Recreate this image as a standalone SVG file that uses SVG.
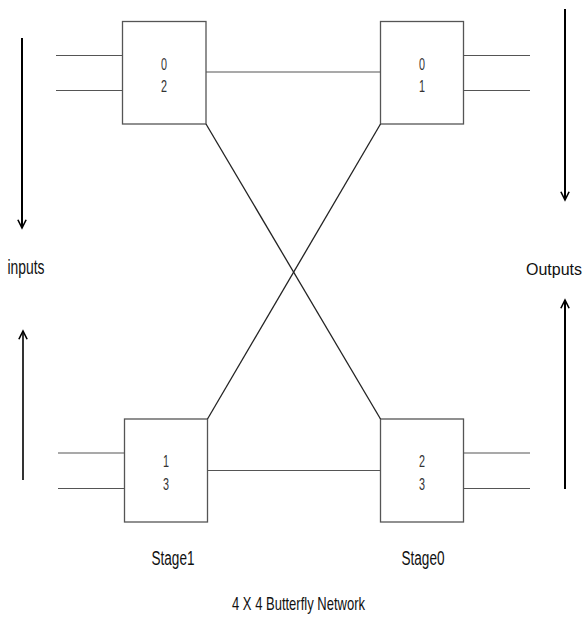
<svg xmlns="http://www.w3.org/2000/svg" width="587" height="618" viewBox="0 0 587 618">
  <style>
    .box { fill: #ffffff; stroke: #555555; stroke-width: 1.3; }
    .wire { stroke: #555555; stroke-width: 1.2; fill: none; }
    .cross { stroke: #222222; stroke-width: 1.3; fill: none; }
    .flow { stroke: #000000; stroke-width: 2; fill: none; }
    text { font-family: "Liberation Sans", Arial, sans-serif; fill: #111111; text-anchor: middle; }
    .num { font-size: 17px; fill: #333333; }
    .lbl { font-size: 20px; }
    .side { font-size: 17px; }
    .title { font-size: 19px; }
  </style>
  <defs>
    <marker id="arrow" viewBox="0 0 12 12" refX="10" refY="6" markerWidth="11" markerHeight="11" markerUnits="userSpaceOnUse" orient="auto">
      <path d="M1,1.5 L10,6 L1,10.5" fill="none" stroke="#000000" stroke-width="1.8"/>
    </marker>
  </defs>

  <!-- switching elements -->
  <g id="switch-top-left">
    <rect class="box" x="122.5" y="21.5" width="83.5" height="102.5"/>
    <text class="num" x="164" y="70" textLength="6" lengthAdjust="spacingAndGlyphs">0</text>
    <text class="num" x="164" y="92" textLength="6" lengthAdjust="spacingAndGlyphs">2</text>
  </g>
  <g id="switch-top-right">
    <rect class="box" x="380.5" y="21.5" width="83" height="102.5"/>
    <text class="num" x="422" y="70" textLength="6" lengthAdjust="spacingAndGlyphs">0</text>
    <text class="num" x="422" y="92" textLength="6" lengthAdjust="spacingAndGlyphs">1</text>
  </g>
  <g id="switch-bottom-left">
    <rect class="box" x="124.5" y="419" width="83" height="103"/>
    <text class="num" x="166" y="467" textLength="6" lengthAdjust="spacingAndGlyphs">1</text>
    <text class="num" x="166" y="490" textLength="6" lengthAdjust="spacingAndGlyphs">3</text>
  </g>
  <g id="switch-bottom-right">
    <rect class="box" x="380.5" y="419" width="83" height="103"/>
    <text class="num" x="422" y="467" textLength="6" lengthAdjust="spacingAndGlyphs">2</text>
    <text class="num" x="422" y="490" textLength="6" lengthAdjust="spacingAndGlyphs">3</text>
  </g>

  <!-- links between stages and the outer ports -->
  <g id="connectors">
    <line class="wire" x1="56" y1="55.5" x2="122.5" y2="55.5"/>
    <line class="wire" x1="56" y1="90.5" x2="122.5" y2="90.5"/>
    <line class="wire" x1="206" y1="72" x2="380.5" y2="72"/>
    <line class="wire" x1="463.5" y1="55.5" x2="530" y2="55.5"/>
    <line class="wire" x1="463.5" y1="90.5" x2="530" y2="90.5"/>
    <line class="wire" x1="58" y1="453" x2="124.5" y2="453"/>
    <line class="wire" x1="58" y1="488.5" x2="124.5" y2="488.5"/>
    <line class="wire" x1="207.5" y1="470.5" x2="380.5" y2="470.5"/>
    <line class="wire" x1="463.5" y1="453" x2="530" y2="453"/>
    <line class="wire" x1="463.5" y1="488.5" x2="530" y2="488.5"/>
    <line class="cross" x1="206" y1="124" x2="380.5" y2="419"/>
    <line class="cross" x1="380.5" y1="124" x2="207.5" y2="419"/>
  </g>

  <!-- direction indicators -->
  <g id="input-arrows">
    <line class="flow" x1="22" y1="38" x2="22" y2="228" marker-end="url(#arrow)"/>
    <line class="flow" x1="23" y1="480" x2="23" y2="331" marker-end="url(#arrow)" style="stroke-width:1.6"/>
    <text class="lbl" x="26" y="274" textLength="37" lengthAdjust="spacingAndGlyphs">inputs</text>
  </g>
  <g id="output-arrows">
    <line class="flow" x1="565" y1="9" x2="565" y2="200" marker-end="url(#arrow)"/>
    <line class="flow" x1="565" y1="489" x2="565" y2="300" marker-end="url(#arrow)"/>
    <text class="side" x="554" y="275" textLength="56" lengthAdjust="spacingAndGlyphs">Outputs</text>
  </g>

  <!-- captions -->
  <text class="lbl" x="173" y="565" textLength="43" lengthAdjust="spacingAndGlyphs">Stage1</text>
  <text class="lbl" x="423" y="565" textLength="43" lengthAdjust="spacingAndGlyphs">Stage0</text>
  <text class="title" x="298.5" y="610" textLength="133" lengthAdjust="spacingAndGlyphs">4 X 4 Butterfly Network</text>
</svg>
